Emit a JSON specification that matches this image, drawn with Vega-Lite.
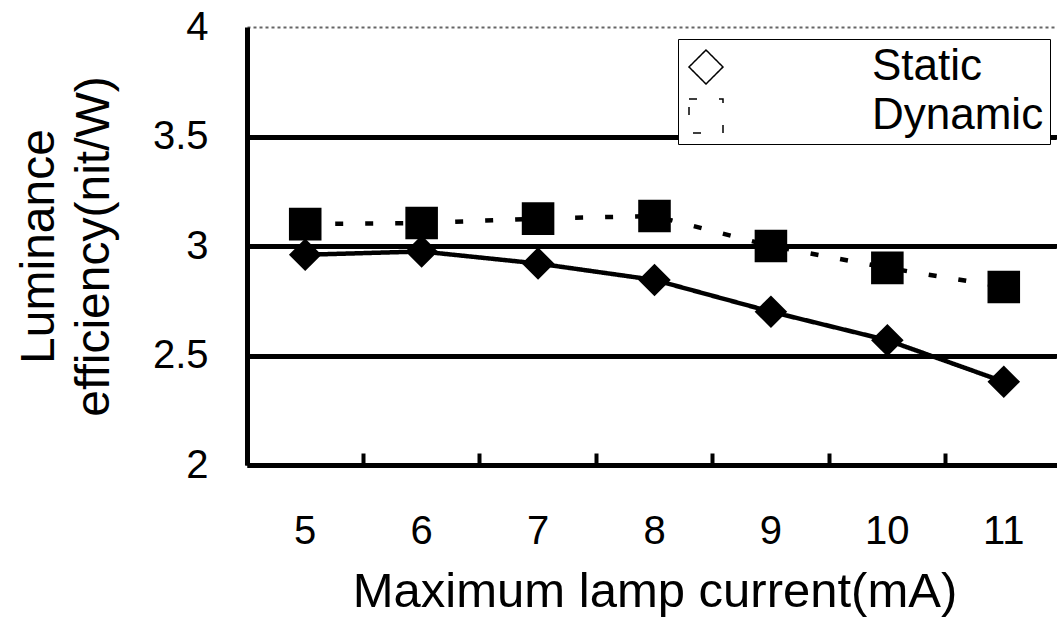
{
  "$schema": "https://vega.github.io/schema/vega-lite/v6.json",
  "width": 815,
  "height": 438,
  "autosize": "none",
  "padding": {"left": 247, "top": 27, "right": 0, "bottom": 163},
  "background": "white",
  "config": {"font": "Liberation Sans", "view": {"stroke": null}, "legend": {"disable": false}},
  "data": {
    "values": [
      {"current": 5, "series": "Static", "efficiency": 2.96},
      {"current": 6, "series": "Static", "efficiency": 2.975},
      {"current": 7, "series": "Static", "efficiency": 2.92},
      {"current": 8, "series": "Static", "efficiency": 2.845},
      {"current": 9, "series": "Static", "efficiency": 2.70},
      {"current": 10, "series": "Static", "efficiency": 2.57},
      {"current": 11, "series": "Static", "efficiency": 2.38},
      {"current": 5, "series": "Dynamic", "efficiency": 3.10},
      {"current": 6, "series": "Dynamic", "efficiency": 3.105},
      {"current": 7, "series": "Dynamic", "efficiency": 3.125},
      {"current": 8, "series": "Dynamic", "efficiency": 3.137},
      {"current": 9, "series": "Dynamic", "efficiency": 3.0},
      {"current": 10, "series": "Dynamic", "efficiency": 2.90},
      {"current": 11, "series": "Dynamic", "efficiency": 2.813}
    ]
  },
  "encoding": {
    "x": {
      "field": "current",
      "type": "ordinal",
      "scale": {"type": "band", "paddingInner": 0, "paddingOuter": 0},
      "axis": {
        "title": "Maximum lamp current(mA)",
        "labelAngle": 0,
        "bandPosition": 0,
        "tickSize": -12,
        "tickWidth": 4,
        "tickColor": "black",
        "domainColor": "black",
        "domainWidth": 5,
        "labelFontSize": 40,
        "labelColor": "black",
        "labelPadding": 58,
        "titleFontSize": 49,
        "titleFontWeight": "normal",
        "titleColor": "black",
        "titlePadding": 16,
        "grid": false
      }
    },
    "y": {
      "field": "efficiency",
      "type": "quantitative",
      "scale": {"domain": [2, 4]},
      "axis": {
        "title": ["Luminance", "efficiency(nit/W)"],
        "values": [2, 2.5, 3, 3.5, 4],
        "format": "~g",
        "ticks": false,
        "labelPadding": 39,
        "labelFontSize": 40,
        "labelColor": "black",
        "grid": true,
        "gridColor": {"condition": {"test": "datum.value === 4", "value": "#666666"}, "value": "black"},
        "gridWidth": {"condition": {"test": "datum.value === 4", "value": 2}, "value": 5},
        "gridDash": {"condition": {"test": "datum.value === 4", "value": [3, 3]}, "value": [1, 0]},
        "domainColor": "black",
        "domainWidth": 5,
        "titleFontSize": 48,
        "titleFontWeight": "normal",
        "titleColor": "black",
        "titleLineHeight": 55,
        "titlePadding": 34
      }
    }
  },
  "layer": [
    {
      "mark": {"type": "line", "color": "black", "strokeWidth": 4.5},
      "encoding": {
        "strokeDash": {
          "field": "series", "type": "nominal",
          "scale": {"domain": ["Static", "Dynamic"], "range": [[1, 0], [8, 22]]},
          "legend": {
            "title": null,
            "orient": "top-right",
            "offset": 12,
            "padding": 6,
            "strokeColor": "black",
            "fillColor": "white",
            "labelFontSize": 44,
            "labelColor": "black",
            "labelLimit": 400,
            "symbolSize": 1156,
            "labelOffset": 144,
            "rowPadding": 5,
            "encode": {
              "legend": {"strokeWidth": {"value": 4}},
              "symbols": {
                "shape": {"condition": {"test": "datum.value === 'Static'", "value": "M-1,0L9,0M4,-1L5,0L4,1L3,0Z"}, "value": "M-1,0L9,0M3.1,-0.9L4.9,-0.9L4.9,0.9L3.1,0.9Z"},
                "strokeDash": {"condition": {"test": "datum.value === 'Static'", "value": [1, 0]}, "value": [9, 23]},
                "fill": {"value": "black"},
                "stroke": {"value": "black"},
                "strokeWidth": {"value": 4},
                "opacity": {"value": 1},
                "size": {"value": 1156}
              }
            }
          }
        }
      }
    },
    {
      "mark": {"type": "point", "filled": true, "color": "black", "opacity": 1, "size": 1060},
      "encoding": {
        "shape": {
          "field": "series", "type": "nominal",
          "scale": {"domain": ["Static", "Dynamic"], "range": ["diamond", "square"]},
          "legend": {
            "title": null,
            "orient": "top-right",
            "offset": 12,
            "padding": 6,
            "strokeColor": "black",
            "fillColor": "white",
            "labelFontSize": 44,
            "labelColor": "black",
            "labelLimit": 400,
            "symbolSize": 1156,
            "labelOffset": 144,
            "rowPadding": 5,
            "encode": {
              "legend": {"strokeWidth": {"value": 4}},
              "symbols": {
                "shape": {"condition": {"test": "datum.value === 'Static'", "value": "M-1,0L9,0M4,-1L5,0L4,1L3,0Z"}, "value": "M-1,0L9,0M3.1,-0.9L4.9,-0.9L4.9,0.9L3.1,0.9Z"},
                "strokeDash": {"condition": {"test": "datum.value === 'Static'", "value": [1, 0]}, "value": [9, 23]},
                "fill": {"value": "black"},
                "stroke": {"value": "black"},
                "strokeWidth": {"value": 4},
                "opacity": {"value": 1},
                "size": {"value": 1156}
              }
            }
          }
        }
      }
    }
  ]
}
